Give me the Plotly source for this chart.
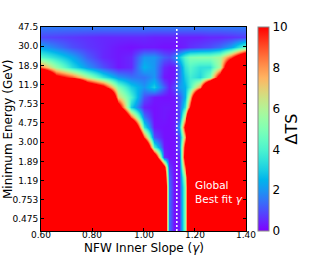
import numpy as np
import plotly.graph_objects as go

# NFW inner slope (gamma) columns
gamma = [0.60, 0.66, 0.72, 0.78, 0.84, 0.90, 0.95, 1.00, 1.04, 1.08,
         1.10, 1.12, 1.14, 1.16, 1.18, 1.22, 1.26, 1.30, 1.34, 1.40]

# Minimum energy rows (GeV), top to bottom
energy = [47.5, 37.4, 29.4, 23.1, 18.2, 14.3, 11.3, 8.86, 6.97, 5.49, 4.32,
          3.40, 2.67, 2.10, 1.65, 1.30, 1.02, 0.805, 0.633, 0.498, 0.356]

# Delta TS values, rows top to bottom (matching energy)
dts = [
    [1.6, 1.6, 1.6, 1.6, 1.6, 1.6, 1.6, 1.6, 1.6, 1.6, 1.6, 1.6, 1.6, 1.6, 1.6, 1.6, 1.6, 1.6, 1.6, 1.6],
    [0.9, 0.8, 0.7, 0.6, 0.5, 0.5, 0.5, 0.5, 0.4, 0.4, 0.4, 0.4, 0.4, 0.4, 0.4, 0.4, 0.5, 0.5, 0.6, 0.8],
    [2.2, 1.6, 1.0, 0.7, 0.5, 0.3, 0.2, 0.3, 0.3, 0.2, 0.2, 0.2, 0.3, 0.4, 0.6, 0.8, 1.0, 1.4, 2.2, 4.5],
    [4.2, 3.3, 2.3, 1.2, 0.5, 0.3, 0.5, 2.0, 2.0, 1.2, 1.0, 1.5, 2.8, 4.2, 5.0, 5.2, 5.2, 5.8, 9.0, 15],
    [8.5, 5.5, 3.3, 2.0, 1.0, 0.3, 0.5, 2.5, 2.0, 0.5, 0.3, 0.3, 1.5, 3.5, 4.2, 3.5, 3.5, 6.0, 16, 25],
    [20, 11, 9.0, 6.0, 3.5, 2.0, 1.5, 1.5, 2.0, 0.3, 0.2, 0.3, 1.5, 3.0, 3.8, 3.2, 5.0, 12, 25, 30],
    [30, 28, 25, 14, 11, 5.0, 3.0, 2.0, 3.0, 1.2, 0.4, 0.8, 2.0, 2.5, 4.0, 8.0, 20, 30, 30, 30],
    [30, 30, 30, 30, 25, 7.0, 4.0, 1.0, 0.3, 0.2, 0.2, 0.3, 1.0, 2.5, 7.0, 20, 30, 30, 30, 30],
    [30, 30, 30, 30, 30, 12, 3.0, 0.4, 0.2, 0.3, 0.3, 0.2, 1.0, 3.5, 10, 25, 30, 30, 30, 30],
    [30, 30, 30, 30, 30, 20, 9.0, 1.5, 0.2, 0.3, 0.2, 0.3, 0.8, 7.0, 20, 30, 30, 30, 30, 30],
    [30, 30, 30, 30, 30, 30, 18, 3.5, 0.3, 0.2, 0.2, 0.3, 2.0, 11, 25, 30, 30, 30, 30, 30],
    [30, 30, 30, 30, 30, 30, 25, 9.0, 1.0, 0.2, 0.2, 0.2, 0.8, 8.0, 25, 30, 30, 30, 30, 30],
    [30, 30, 30, 30, 30, 30, 30, 18, 4.0, 0.3, 0.2, 0.2, 1.0, 11, 25, 30, 30, 30, 30, 30],
    [30, 30, 30, 30, 30, 30, 30, 28, 14, 0.6, 0.2, 0.2, 0.4, 12, 25, 30, 30, 30, 30, 30],
    [30, 30, 30, 30, 30, 30, 30, 30, 25, 11, 0.8, 0.2, 0.3, 9.0, 22, 30, 30, 30, 30, 30],
    [30, 30, 30, 30, 30, 30, 30, 30, 28, 14, 1.2, 0.2, 0.3, 6.0, 20, 30, 30, 30, 30, 30],
    [30, 30, 30, 30, 30, 30, 30, 30, 30, 16, 1.5, 0.2, 0.3, 5.0, 20, 30, 30, 30, 30, 30],
    [30, 30, 30, 30, 30, 30, 30, 30, 30, 16, 1.5, 0.2, 0.3, 5.0, 20, 30, 30, 30, 30, 30],
    [30, 30, 30, 30, 30, 30, 30, 30, 30, 16, 1.5, 0.2, 0.3, 5.0, 20, 30, 30, 30, 30, 30],
    [30, 30, 30, 30, 30, 30, 30, 30, 30, 16, 1.5, 0.2, 0.3, 5.0, 20, 30, 30, 30, 30, 30],
    [30, 30, 30, 30, 30, 30, 30, 30, 30, 16, 1.5, 0.2, 0.3, 5.0, 20, 30, 30, 30, 30, 30],
]

y_tick_labels = ["47.5", "30.0", "18.9", "11.9", "7.53", "4.75", "3.00",
                 "1.89", "1.19", "0.753", "0.475"]
x_tick_vals = [0.60, 0.80, 1.00, 1.20, 1.40]
best_fit_gamma = 1.13

# matplotlib 'rainbow' colormap
def rainbow(t):
    r = min(1.0, abs(2 * t - 0.5))
    g = np.sin(np.pi * t)
    b = np.cos(np.pi * t / 2)
    return "rgb(%d,%d,%d)" % (round(r * 255), round(max(g, 0) * 255), round(max(b, 0) * 255))

cs = [[t, rainbow(t)] for t in np.linspace(0, 1, 21)]

logE = np.log10(np.array(energy))[::-1]
z = np.array(dts)[::-1]

FONT = "DejaVu Sans"

fig = go.Figure()
fig.add_trace(go.Heatmap(
    x=gamma, y=logE, z=z, zmin=0, zmax=10, zsmooth="best",
    colorscale=cs,
    colorbar=dict(
        x=1.0585, xanchor="left", xpad=0, y=0.5, yanchor="middle",
        len=1.0, lenmode="fraction", thickness=11, thicknessmode="pixels",
        outlinecolor="#888", outlinewidth=1, ypad=0,
        tickvals=[0, 2, 4, 6, 8, 10], ticks="",
        tickfont=dict(family=FONT, size=12, color="black"),
        title=dict(text="ΔTS", side="right",
                   font=dict(family=FONT, size=16, color="black")),
    ),
    hoverinfo="skip",
))

fig.add_shape(type="line", xref="x", yref="paper",
              x0=best_fit_gamma, x1=best_fit_gamma, y0=0, y1=1,
              line=dict(color="white", width=1.5, dash="2px,2px"))

fig.add_annotation(x=1.193, y=-0.042, xref="x", yref="y",
                   text="Global<br>Best fit <i>γ</i>", showarrow=False,
                   xanchor="left", yanchor="middle", align="left",
                   font=dict(family=FONT, size=10.5, color="white"))

# x tick labels (placed just below the axis, as in the reference)
for v in x_tick_vals:
    fig.add_annotation(x=v, y=-0.0196, xref="x", yref="paper",
                       text="%.2f" % v, showarrow=False,
                       xanchor="center", yanchor="middle",
                       font=dict(family=FONT, size=9, color="black"))

# axis titles
fig.add_annotation(x=0.5, y=-0.085, xref="paper", yref="paper",
                   text="NFW Inner Slope (<i>γ</i>)", showarrow=False,
                   xanchor="center", yanchor="middle",
                   font=dict(family=FONT, size=12, color="black"))
fig.add_annotation(x=-0.161, y=0.5, xref="paper", yref="paper",
                   text="Minimum Energy (GeV)", showarrow=False, textangle=-90,
                   xanchor="center", yanchor="middle",
                   font=dict(family=FONT, size=12, color="black"))

fig.update_xaxes(
    range=[0.6, 1.4], tickvals=x_tick_vals, showticklabels=False,
    ticks="inside", ticklen=3, tickcolor="black", mirror="ticks",
    showline=True, linecolor="black", linewidth=1, showgrid=False, zeroline=False,
    automargin=False,
)
fig.update_yaxes(
    range=[np.log10(0.356), np.log10(47.5)],
    tickvals=[np.log10(float(t)) for t in y_tick_labels], ticktext=y_tick_labels,
    ticks="inside", ticklen=3, tickcolor="black", mirror="ticks",
    showline=True, linecolor="black", linewidth=1, showgrid=False, zeroline=False,
    tickfont=dict(family=FONT, size=9, color="black"),
    automargin=False,
)

fig.update_layout(
    width=330, height=264,
    margin=dict(l=41, r=84, t=27, b=33, autoexpand=False),
    paper_bgcolor="white", plot_bgcolor="white",
    showlegend=False,
)

fig.write_html("out.html", config={"displayModeBar": False},
               post_script="document.body.style.margin='0';document.body.style.padding='0';")
